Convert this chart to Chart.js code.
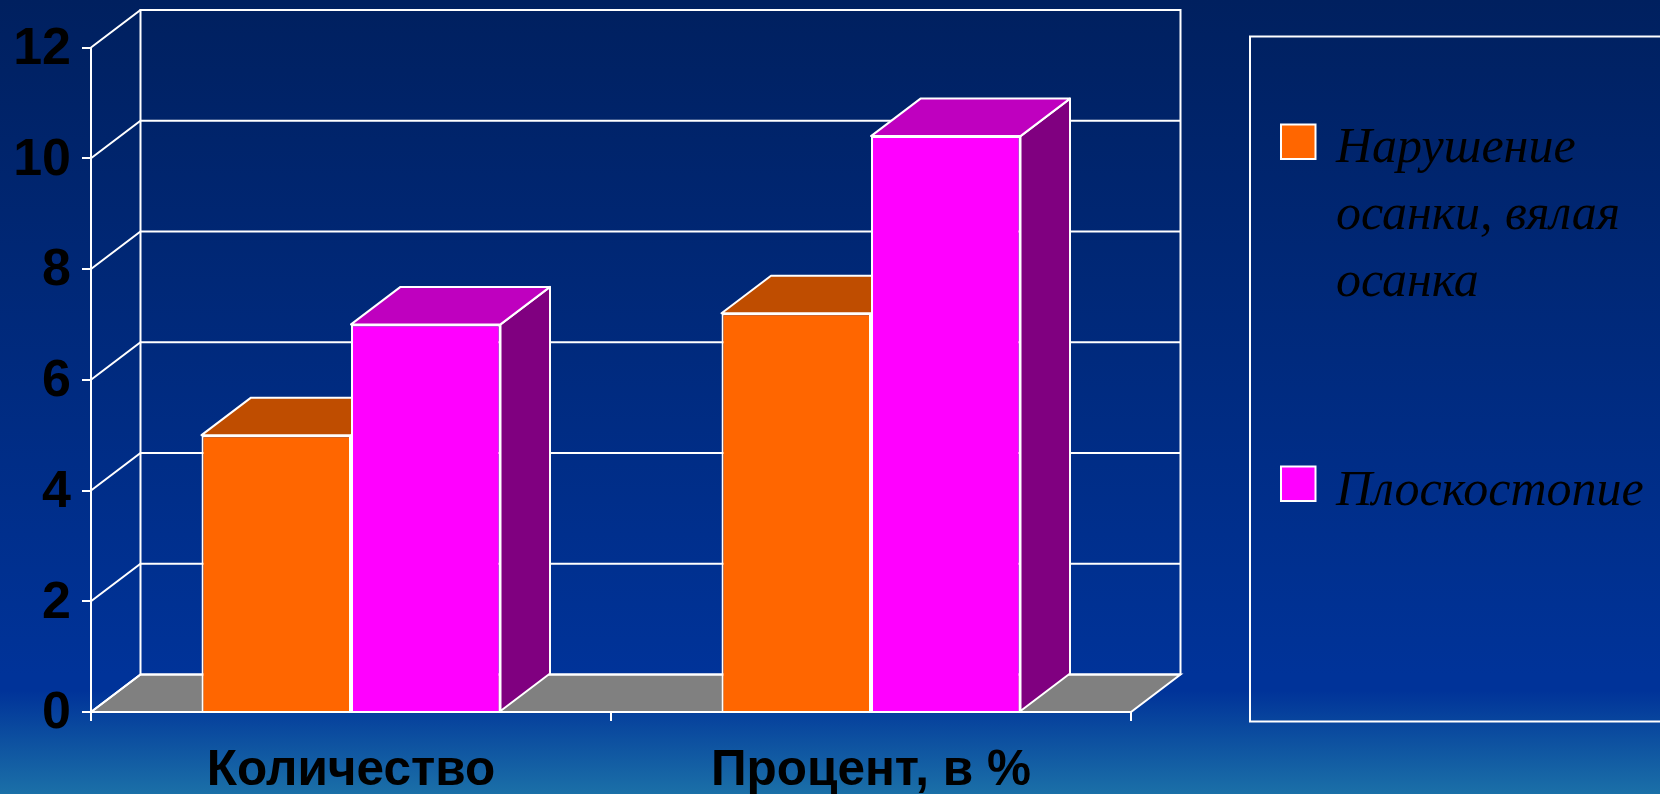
<!DOCTYPE html>
<html lang="ru">
<head>
<meta charset="utf-8">
<style>
html,body{margin:0;padding:0;width:1660px;height:794px;overflow:hidden;
background:linear-gradient(180deg,#00205f 0%,#003399 85%,#003399 87%,#1b70a8 100%);}
canvas{display:block;}
</style>
<script src="https://cdn.jsdelivr.net/npm/chart.js@4/dist/chart.umd.min.js"></script>
</head>
<body>
<canvas id="c" width="1660" height="794"></canvas>
<script>
const categories = ['Количество', 'Процент, в %'];
const seriesA = [5, 7.2];
const seriesB = [7, 10.4];
const legendA = ['Нарушение', 'осанки, вялая', 'осанка'];
const legendB = ['Плоскостопие'];
const colorsA = {front:'#ff6600', top:'#bf4d00', side:'#803300'};
const colorsB = {front:'#ff00ff', top:'#bf00bf', side:'#800080'};
const depthX = 49.5, depthY = 37.5;

const scene3d = {
  id:'scene3d',
  beforeDatasetsDraw(chart){
    const {ctx, scales:{x,y}, chartArea:a} = chart;
    ctx.save();
    const y0 = y.getPixelForValue(0);
    ctx.fillStyle='#808080';
    ctx.strokeStyle='#fff';
    ctx.lineWidth=2;
    ctx.beginPath();
    ctx.moveTo(a.left,y0);ctx.lineTo(a.left+depthX,y0-depthY);
    ctx.lineTo(a.right+depthX,y0-depthY);ctx.lineTo(a.right,y0);ctx.closePath();
    ctx.fill();ctx.stroke();
    ctx.beginPath();
    ctx.moveTo(a.left+depthX,y0-depthY);ctx.lineTo(a.left+depthX,a.top-depthY);
    ctx.lineTo(a.right+depthX,a.top-depthY);ctx.lineTo(a.right+depthX,y0-depthY);
    ctx.stroke();
    y.ticks.forEach(t=>{
      const py=y.getPixelForValue(t.value);
      ctx.lineWidth=2;
      ctx.beginPath();
      ctx.moveTo(a.left,py);ctx.lineTo(a.left+depthX,py-depthY);
      ctx.lineTo(a.right+depthX,py-depthY);
      ctx.stroke();
    });
    ctx.restore();
  },
  // Chart.js paints the first dataset last; the picture needs the first one underneath.
  beforeDatasetDraw(){ return false; },
  afterDatasetsDraw(chart){
    const {ctx} = chart;
    chart.data.datasets.forEach((ds,i)=>{
      const meta=chart.getDatasetMeta(i);
      ctx.save();
      ctx.strokeStyle='#fff';ctx.lineWidth=2;ctx.lineJoin='round';
      meta.data.forEach(b=>{
        const l=b.x-b.width/2,r=b.x+b.width/2,t=b.y,bt=b.base;
        ctx.fillStyle=ds.faces.side;
        ctx.beginPath();ctx.moveTo(r,t);ctx.lineTo(r+depthX,t-depthY);
        ctx.lineTo(r+depthX,bt-depthY);ctx.lineTo(r,bt);ctx.closePath();ctx.fill();ctx.stroke();
        ctx.fillStyle=ds.faces.top;
        ctx.beginPath();ctx.moveTo(l,t);ctx.lineTo(l+depthX,t-depthY);
        ctx.lineTo(r+depthX,t-depthY);ctx.lineTo(r,t);ctx.closePath();ctx.fill();ctx.stroke();
      });
      ctx.restore();
      meta.data.forEach(b=>b.draw(ctx));
    });
  }
};

const legendBox = {
  id:'legendBox',
  afterDraw(chart){
    const {ctx}=chart;
    ctx.save();
    ctx.strokeStyle='#fff';ctx.lineWidth=2;
    ctx.strokeRect(1250,36.5,430,685);
    const font='italic 50px "Liberation Serif"';
    const items=[
      {lines:legendA,color:colorsA.front,sy:124.5,base:162},
      {lines:legendB,color:colorsB.front,sy:466.5,base:505}
    ];
    items.forEach(it=>{
      ctx.fillStyle=it.color;
      ctx.fillRect(1281,it.sy,34.5,34.5);
      ctx.strokeRect(1281,it.sy,34.5,34.5);
      ctx.fillStyle='#000';
      ctx.font=font;ctx.textAlign='left';ctx.textBaseline='alphabetic';
      it.lines.forEach((s,i)=>ctx.fillText(s,1336,it.base+i*67));
    });
    ctx.restore();
  }
};

new Chart(document.getElementById('c'),{
  type:'bar',
  data:{labels:categories,datasets:[
    {label:legendA.join(' '),data:seriesA,backgroundColor:colorsA.front,borderColor:'#fff',borderWidth:2,faces:colorsA,borderSkipped:'bottom'},
    {label:legendB.join(' '),data:seriesB,backgroundColor:colorsB.front,borderColor:'#fff',borderWidth:2,faces:colorsB,borderSkipped:'bottom'}
  ]},
  plugins:[scene3d,legendBox],
  options:{
    responsive:false,animation:false,devicePixelRatio:1,
    layout:{padding:{left:0,top:47.5,right:529,bottom:0}},
    plugins:{legend:{display:false},tooltip:{enabled:false}},
    datasets:{bar:{categoryPercentage:0.575,barPercentage:1}},
    scales:{
      x:{
        grid:{drawOnChartArea:false,drawTicks:true,tickColor:'#fff',tickLength:9,lineWidth:2},
        border:{color:'#fff',width:2,z:1},
        ticks:{color:'#000',font:{family:'"Liberation Sans"',weight:'bold',size:49.5},padding:21,maxRotation:0,autoSkip:false},
        afterFit(s){s.height=82;}
      },
      y:{
        min:0,max:12,
        grid:{drawOnChartArea:false,drawTicks:true,tickColor:'#fff',tickLength:9,lineWidth:2},
        border:{color:'#fff',width:2},
        ticks:{stepSize:2,color:'#000',font:{family:'"Liberation Sans"',weight:'bold',size:52},padding:11,labelOffset:2},
        afterFit(s){s.width=91;}
      }
    }
  }
});
</script>
</body>
</html>
